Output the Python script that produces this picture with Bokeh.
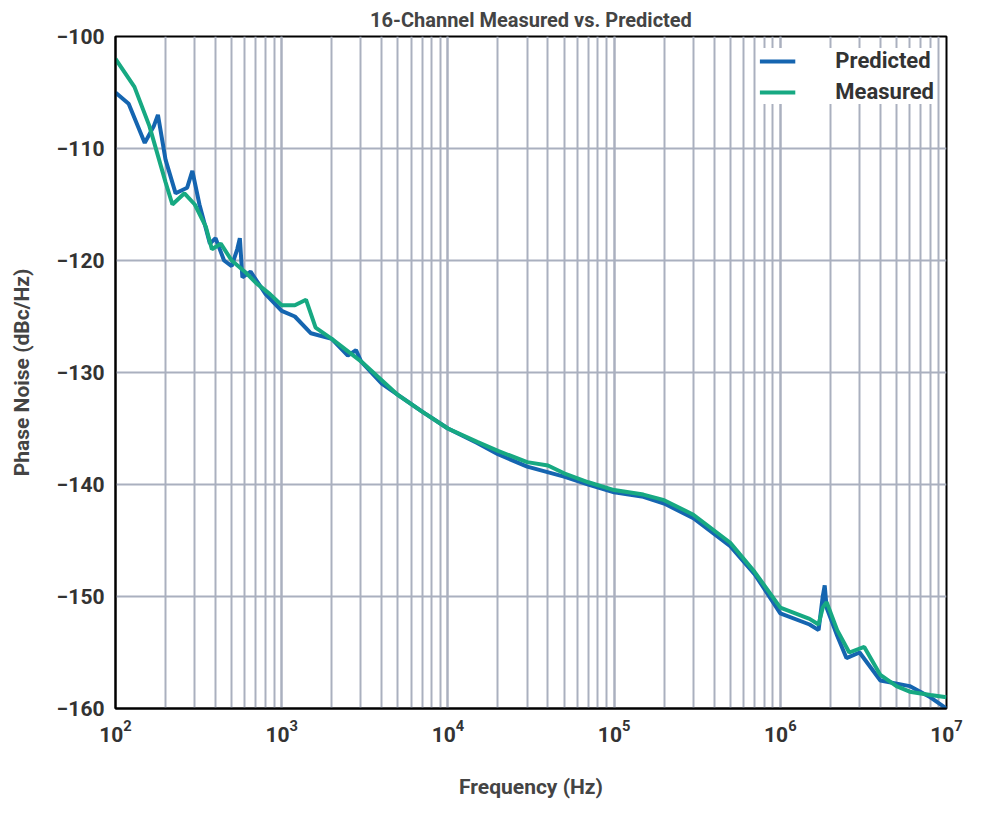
from bokeh.plotting import figure
from bokeh.models import LogTicker, FixedTicker, Legend, LegendItem
from bokeh.embed import file_html
from bokeh.resources import INLINE

pred_f = [100,120,150,170,180,200,230,270,290,320,370,400,450,500,540,560,580,650,800,1000,1200,1500,2000,2500,2800,3000,4000,5000,7000,1e4,1.5e4,2e4,3e4,5e4,7e4,1e5,1.5e5,2e5,3e5,5e5,7e5,1e6,1.5e6,1.7e6,1.8e6,1.85e6,1.9e6,2.2e6,2.5e6,3e6,4e6,6e6,8e6,1e7]
pred_v = [-105,-106,-109.5,-108,-107,-111,-114,-113.5,-112,-115,-118.5,-118,-120,-120.5,-119,-118,-121.5,-121,-123,-124.5,-125,-126.5,-127,-128.5,-128,-129,-131,-132,-133.5,-135,-136.3,-137.3,-138.4,-139.3,-140,-140.7,-141.1,-141.7,-143,-145.5,-148,-151.5,-152.5,-153,-150,-149,-151,-153.5,-155.5,-155,-157.5,-158,-159,-160]
meas_f = [100,130,160,200,220,260,300,350,380,430,500,600,700,850,1000,1200,1400,1600,2000,3000,5000,7000,1e4,1.5e4,2e4,3e4,4e4,5e4,7e4,1e5,1.5e5,2e5,3e5,5e5,7e5,1e6,1.5e6,1.7e6,1.8e6,1.9e6,2.2e6,2.6e6,3.2e6,4e6,5e6,6e6,8e6,1e7]
meas_v = [-102,-104.5,-108,-113,-115,-114,-115,-117,-119,-118.5,-120,-121,-122,-123,-124,-124,-123.5,-126,-127,-129,-132,-133.5,-135,-136.2,-137,-138,-138.3,-139,-139.8,-140.5,-140.9,-141.4,-142.7,-145.2,-147.8,-151,-152,-152.5,-151,-150.5,-153,-155,-154.5,-157,-158,-158.5,-158.8,-159]

FONT = "Roboto"
p = figure(width=966, height=803, x_axis_type="log", x_range=(100, 1e7), y_range=(-160, -100),
           output_backend="svg", toolbar_location=None,
           title="16-Channel Measured vs. Predicted",
           x_axis_label="Frequency (Hz)", y_axis_label="Phase Noise (dBc/Hz)")
p.title.align = "center"
p.title.text_font = FONT
p.title.text_font_size = "20px"
p.title.text_color = "#444444"
p.xaxis.ticker = LogTicker(num_minor_ticks=10)
p.yaxis.ticker = FixedTicker(ticks=list(range(-160, -99, 10)))
for ax in (p.xaxis, p.yaxis):
    ax.axis_label_text_font = FONT
    ax.axis_label_text_font_style = "bold"
    ax.axis_label_text_font_size = "21px"
    ax.axis_label_text_color = "#444444"
    ax.major_label_text_font = FONT
    ax.major_label_text_font_style = "bold"
    ax.major_label_text_font_size = "21px"
    ax.major_label_text_color = "#333333"
    ax.major_tick_line_color = None
    ax.minor_tick_line_color = None
    ax.axis_line_color = "black"
    ax.axis_line_width = 2
p.xaxis.axis_label_standoff = 30
p.yaxis.axis_label_standoff = 20
p.xgrid.grid_line_color = "#aab0bf"
p.xgrid.minor_grid_line_color = "#aab0bf"
p.xgrid.grid_line_width = 2
p.xgrid.minor_grid_line_width = 2
p.ygrid.grid_line_color = "#aab0bf"
p.ygrid.grid_line_width = 2
p.outline_line_color = "black"
p.outline_line_width = 2
p.min_border_right = 20
p.min_border_left = 115
p.min_border_bottom = 95

r1 = p.line(pred_f, pred_v, line_color="#1565b0", line_width=4)
r2 = p.line(meas_f, meas_v, line_color="#17a982", line_width=4)
leg = Legend(items=[LegendItem(label="Predicted", renderers=[r1]),
                    LegendItem(label="Measured", renderers=[r2])],
             location="top_right", label_text_font=FONT, label_text_font_style="bold",
             label_text_font_size="22px", label_text_color="#333333",
             glyph_width=36, border_line_color=None, background_fill_alpha=1,
             margin=12, spacing=6, label_standoff=40, padding=10)
p.add_layout(leg)

open("out.html", "w").write(file_html(p, INLINE))
